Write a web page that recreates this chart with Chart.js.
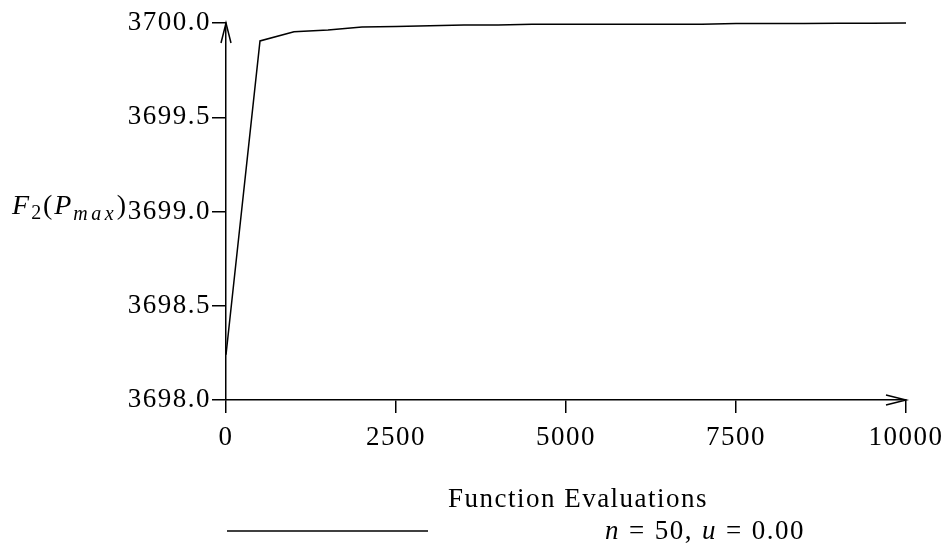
<!DOCTYPE html>
<html>
<head>
<meta charset="utf-8">
<script src="https://cdn.jsdelivr.net/npm/chart.js@4.4.1/dist/chart.umd.min.js"></script>
<style>
  html, body { margin: 0; padding: 0; background: #fff; }
  #wrap { width: 946px; height: 550px; }
</style>
</head>
<body>
<div id="wrap"><canvas id="chart" width="946" height="550"></canvas></div>
<script>
// values
const evaluations = [0, 500, 1000, 1500, 2000, 2500, 3000, 3500, 4000, 4500, 5000,
  5500, 6000, 6500, 7000, 7500, 8000, 8500, 9000, 9500, 10000];
const fitness = [3698.24, 3699.905, 3699.954, 3699.963, 3699.979, 3699.982, 3699.985,
  3699.99, 3699.99, 3699.993, 3699.993, 3699.994, 3699.994, 3699.994, 3699.994,
  3699.998, 3699.998, 3699.998, 3699.999, 3699.999, 3700.0];
const xTicks = [0, 2500, 5000, 7500, 10000];
const yTicks = [3698.0, 3698.5, 3699.0, 3699.5, 3700.0];
const seriesLabel = 'n = 50, u = 0.00';
const xTitle = 'Function Evaluations';

const SERIF = "'Liberation Serif', 'DejaVu Serif', serif";

// the TeX fonts in the original are set wider than Times
const spacing = {
  id: 'spacing',
  beforeDraw(chart) { chart.ctx.letterSpacing = '1.5px'; }
};

// arrows on the axes, axis title, y label with subscripts, legend
const decorations = {
  id: 'decorations',
  afterDraw(chart) {
    const ctx = chart.ctx;
    const a = chart.chartArea;
    ctx.save();
    ctx.strokeStyle = '#000';
    ctx.fillStyle = '#000';
    ctx.lineWidth = 1.5;

    // y arrow
    ctx.beginPath();
    ctx.moveTo(a.left - 5, a.top + 20);
    ctx.lineTo(a.left, a.top);
    ctx.lineTo(a.left + 5, a.top + 20);
    ctx.stroke();
    // x arrow
    ctx.beginPath();
    ctx.moveTo(a.right - 20, a.bottom - 5);
    ctx.lineTo(a.right, a.bottom);
    ctx.lineTo(a.right - 20, a.bottom + 5);
    ctx.stroke();

    // x title
    ctx.font = '27px ' + SERIF;
    ctx.textAlign = 'center';
    ctx.textBaseline = 'alphabetic';
    ctx.fillText(xTitle, 578, 507);

    // y label F_2(P_max)
    const parts = [
      { t: 'F', f: 'italic 28px ', dy: 0 },
      { t: '2', f: '20px ', dy: 5 },
      { t: '(', f: '28px ', dy: 0 },
      { t: 'P', f: 'italic 28px ', dy: 0 },
      { t: 'm', f: 'italic 20px ', dy: 6 },
      { t: 'a', f: 'italic 20px ', dy: 6 },
      { t: 'x', f: 'italic 20px ', dy: 6 },
      { t: ')', f: '28px ', dy: 0 }
    ];
    ctx.textAlign = 'left';
    let total = 0;
    parts.forEach(p => { ctx.font = p.f + SERIF; p.w = ctx.measureText(p.t).width + (p.dy === 6 ? 1.5 : 0); total += p.w; });
    const scaleX = (128 - 12) / total;
    let x = 12;
    parts.forEach(p => { ctx.font = p.f + SERIF; ctx.fillText(p.t, x, 214 + p.dy); x += p.w * scaleX; });

    // legend
    const ds = chart.data.datasets[0];
    ctx.strokeStyle = ds.borderColor;
    ctx.lineWidth = ds.borderWidth;
    ctx.beginPath();
    ctx.moveTo(227, 531);
    ctx.lineTo(428, 531);
    ctx.stroke();
    const chars = ds.label.split('');
    const fontOf = c => (/[a-z]/.test(c) ? 'italic 27px ' : '27px ') + SERIF;
    let natural = 0, spaces = 0;
    chars.forEach(c => { ctx.font = fontOf(c); natural += ctx.measureText(c).width; if (c === ' ') spaces++; });
    const extra = spaces ? (805 - 605 - natural) / spaces : 0;
    x = 605;
    chars.forEach(c => {
      ctx.font = fontOf(c);
      ctx.fillText(c, x, 539);
      x += ctx.measureText(c).width + (c === ' ' ? extra : 0);
    });
    ctx.restore();
  }
};

new Chart(document.getElementById('chart'), {
  type: 'line',
  data: {
    datasets: [{
      label: seriesLabel,
      data: evaluations.map((v, i) => ({ x: v, y: fitness[i] })),
      borderColor: '#000',
      borderWidth: 1.5,
      pointRadius: 0,
      tension: 0,
      clip: false
    }]
  },
  options: {
    responsive: false,
    animation: false,
    layout: { padding: { top: 23, right: 40, left: 0, bottom: 0 } },
    plugins: { legend: { display: false }, tooltip: { enabled: false } },
    scales: {
      x: {
        type: 'linear',
        min: 0,
        max: 10000,
        afterBuildTicks: s => { s.ticks = xTicks.map(v => ({ value: v })); },
        afterFit: s => { s.height = 150; s.paddingLeft = 0; s.paddingRight = 0; },
        ticks: {
          color: '#000',
          font: { family: SERIF, size: 27 },
          padding: 9,
          maxRotation: 0,
          callback: v => String(v)
        },
        grid: { drawOnChartArea: false, drawTicks: true, tickLength: 13, color: '#000', lineWidth: 1.5 },
        border: { display: true, color: '#000', width: 1.5 }
      },
      y: {
        min: 3698,
        max: 3700,
        afterBuildTicks: s => { s.ticks = yTicks.map(v => ({ value: v })); },
        afterFit: s => { s.width = 226; },
        ticks: {
          color: '#000',
          font: { family: SERIF, size: 27 },
          padding: 1,
          callback: v => v.toFixed(1)
        },
        grid: { drawOnChartArea: false, drawTicks: true, tickLength: 14, color: '#000', lineWidth: 1.5 },
        border: { display: true, color: '#000', width: 1.5 }
      }
    }
  },
  plugins: [spacing, decorations]
});
</script>
</body>
</html>
